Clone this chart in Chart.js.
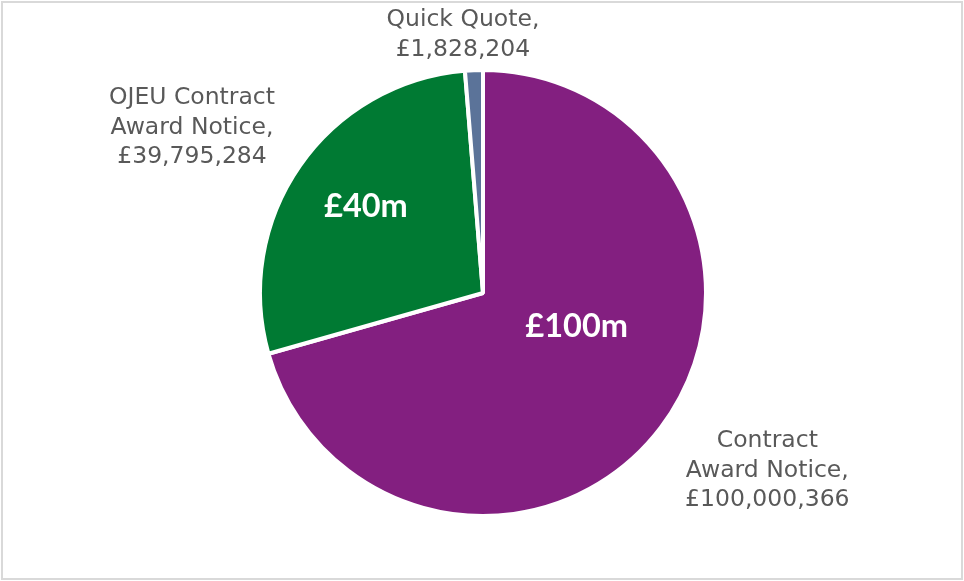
<!DOCTYPE html>
<html>
<head>
<meta charset="utf-8">
<script src="https://cdn.jsdelivr.net/npm/chart.js@4.4.1/dist/chart.umd.min.js"></script>
<style>
  html, body { margin: 0; padding: 0; background: #ffffff; }
  #wrap { position: relative; width: 964px; height: 581px; }
  #frame { position: absolute; left: 1px; top: 1px; width: 962px; height: 579px; box-sizing: border-box; border: 2px solid #d9d9d9; pointer-events: none; }
  canvas { position: absolute; left: 0; top: 0; }
</style>
</head>
<body>
<div id="wrap">
  <canvas id="c" width="964" height="581"></canvas>
  <div id="frame"></div>
</div>
<script>
const categories = ["Contract Award Notice", "OJEU Contract Award Notice", "Quick Quote"];
const values = [100000366, 39795284, 1828204];
const outerLabels = [
  ["Contract", "Award Notice,", "£100,000,366"],
  ["OJEU Contract", "Award Notice,", "£39,795,284"],
  ["Quick Quote,", "£1,828,204"]
];
const innerLabels = ["£100m", "£40m", ""];
const colors = ["#831f80", "#007a33", "#5b7399"];

// label placement relative to pie centre, in units of the outer radius
const outerOffsets = [[1.275, 0.797], [-1.305, -0.742], [-0.090, -1.158]];
const innerOffsets = [[0.420, 0.150], [-0.525, -0.388], [0, 0]];

const labelPlugin = {
  id: 'pieLabels',
  afterDatasetsDraw(chart) {
    const ctx = chart.ctx;
    const meta = chart.getDatasetMeta(0);
    ctx.save();
    meta.data.forEach((arc, i) => {
      const p = arc.getProps(['x', 'y', 'outerRadius'], true);
      const r = p.outerRadius;
      ctx.fillStyle = '#595959';
      ctx.font = '23.5px "DejaVu Sans"';
      ctx.textAlign = 'center';
      ctx.textBaseline = 'middle';
      const lines = outerLabels[i];
      const lh = 29.5;
      const cx = p.x + outerOffsets[i][0] * r;
      const cy = p.y + outerOffsets[i][1] * r;
      lines.forEach((t, k) => {
        ctx.fillText(t, cx, cy + (k - (lines.length - 1) / 2) * lh);
      });
      if (innerLabels[i]) {
        ctx.fillStyle = '#ffffff';
        ctx.font = 'bold 32.5px Lato';
        ctx.fillText(innerLabels[i], p.x + innerOffsets[i][0] * r, p.y + innerOffsets[i][1] * r);
      }
    });
    ctx.restore();
  }
};

new Chart(document.getElementById('c'), {
  type: 'pie',
  data: {
    labels: categories,
    datasets: [{
      data: values,
      backgroundColor: colors,
      borderColor: '#ffffff',
      borderWidth: 4,
      hoverOffset: 0
    }]
  },
  options: {
    responsive: false,
    animation: false,
    devicePixelRatio: 1,
    radius: 223,
    layout: { padding: { left: 260, right: 258, top: 70, bottom: 65 } },
    plugins: {
      legend: { display: false },
      tooltip: { enabled: false }
    }
  },
  plugins: [labelPlugin]
});
</script>
</body>
</html>
